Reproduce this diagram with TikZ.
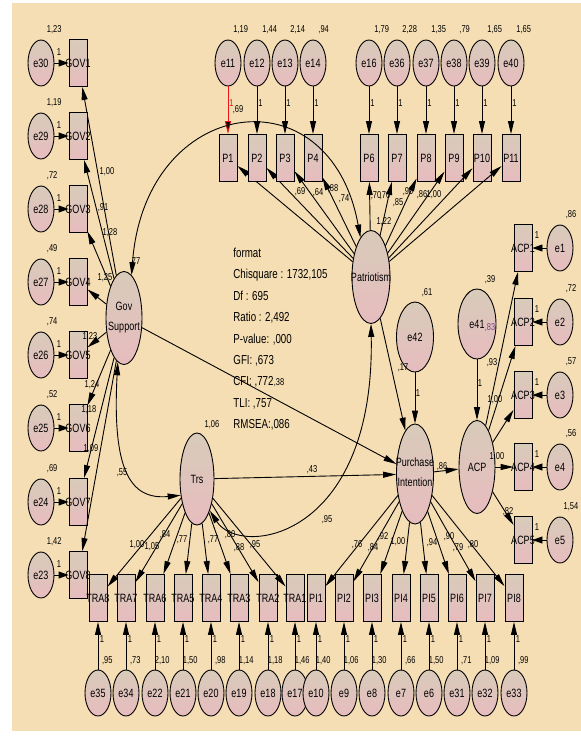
\documentclass[tikz,border=0pt]{standalone}
\usepackage{fontspec}
\setmainfont[FakeStretch=0.75]{Liberation Sans}
\usepackage{tikz}
\usetikzlibrary{positioning, shapes.geometric, arrows.meta, calc}
\tikzset{>={Triangle[length=13pt,width=6pt]}}
\definecolor{amosbg}{RGB}{245,222,179}
\definecolor{amostop}{RGB}{216,203,186}
\definecolor{amosbot}{RGB}{231,188,190}
\definecolor{amosred}{RGB}{240,20,20}
\definecolor{amospurple}{RGB}{120,70,130}
\newcommand\nodefont{\fontsize{12}{14}\selectfont}
\newcommand\numfont{\fontsize{10}{12}\selectfont}
\newcommand\statfont{\fontsize{13}{15}\selectfont}
\newcommand\ctext[1]{\makebox[0pt]{#1}}
\newcommand\ttext[2]{\makebox[0pt]{\begin{tabular}{@{}c@{}}#1\\[6pt]#2\end{tabular}}}
\tikzset{
    obs/.style={rectangle, draw, top color=amostop, bottom color=amosbot,
        minimum width=18pt, minimum height=47pt, inner sep=0pt, font=\nodefont},
    err/.style={ellipse, draw, top color=amostop, bottom color=amosbot,
        minimum width=26pt, minimum height=46pt, inner sep=0pt, font=\nodefont},
    lat/.style={ellipse, draw, top color=amostop, bottom color=amosbot,
        minimum width=37pt, minimum height=93pt, inner sep=0pt, font=\nodefont},
    num/.style={font=\numfont, inner sep=0pt},
    stat/.style={font=\statfont, inner sep=0pt, anchor=base west},
    errarr/.style={-{Triangle[length=10pt,width=7pt]}},
    cov/.style={<->}
}

\begin{document}
\begin{tikzpicture}[x=1pt, y=-1pt, line width=0.9pt]
    \useasboundingbox (0,0) rectangle (581,740);
    \fill[white] (0,0) rectangle (581,740);
    \fill[amosbg] (12,3) rectangle (581,731);

    % latent variables
    \node[lat, minimum width=36pt] (gov) at (124,318) {\ttext{Gov}{Support}};
    \node[lat, minimum width=38pt] (pat) at (371,277) {\ctext{Patriotism}};
    \node[lat, minimum width=34pt, minimum height=92pt] (trs) at (197,479) {\ctext{Trs}};
    \node[lat, minimum height=100pt] (purch) at (415,474) {\ttext{Purchase}{Intention}};
    \node[lat, minimum width=36pt] (acp) at (477,467) {\ctext{ACP}};
    \node[lat, minimum width=38pt, minimum height=70pt] (e41) at (477,324) {\ctext{e41}};
    \node[lat, minimum height=70pt] (e42) at (415,337) {\ctext{e42}};

    % gov support items
    \foreach \n/\y/\e/\v in {1/63/30/{1,23}, 2/136/29/{1,19}, 3/209/28/{,72}, 4/282/27/{,49},
                             5/355/26/{,74}, 6/428/25/{,52}, 7/502/24/{,69}, 8/575/23/{1,42}} {
        \node[obs] (gov\n) at (78,\y) {\ctext{GOV\n}};
        \node[err] (e\e) at (41,\y) {\ctext{e\e}};
        \node[num, anchor=west] (ve\e) at (46.5,\y-33) {\v};
        \node[num] (one\e) at (59,\y-11) {1};
        \path (e\e) edge[errarr] (gov\n);
        \path[->] (gov) edge (gov\n);
    }

    % patriotism items
    \foreach \n/\x/\e/\v/\c in {1/228/11/{1,19}/amosred, 2/257/12/{1,44}/black, 3/285/13/{2,14}/black,
                                4/313/14/{,94}/black, 6/369/16/{1,79}/black, 7/397/36/{2,28}/black,
                                8/426/37/{1,35}/black, 9/454/38/{,79}/black, 10/482/39/{1,65}/black,
                                11/511/40/{1,65}/black} {
        \node[obs] (p\n) at (\x,158) {\ctext{P\n}};
        \node[err] (e\e) at (\x,63) {\ctext{e\e}};
        \node[num, anchor=west] (ve\e) at (\x+5,30) {\v};
        \node[num, text=\c] (one\e) at (\x+3.5,103) {1};
        \path[->, draw=\c] (e\e) edge (p\n);
        \path[->] (pat) edge (p\n);
    }

    % acp items
    \foreach \n/\y/\v in {1/248/{,86}, 2/322/{,72}, 3/395/{,57}, 4/467/{,56}, 5/540/{1,54}} {
        \node[obs] (acp\n) at (523,\y) {\ctext{ACP\n}};
        \node[err] (e\n) at (560,\y) {\ctext{e\n}};
        \node[num] (ve\n) at (571,\y-33) {\v};
        \node[num] (one\n) at (537,\y-13) {1};
        \path (e\n) edge[errarr] (acp\n);
        \path[->] (acp) edge (acp\n);
    }

    % trust items
    \foreach \m/\t/\x/\e/\v in {tra8/TRA8/98/35/{,95}, tra7/TRA7/126/34/{,73}, tra6/TRA6/155/22/{2,10},
                                tra5/TRA5/183/21/{1,50}, tra4/TRA4/211/20/{,98}, tra3/TRA3/239/19/{1,14},
                                tra2/TRA2/268/18/{1,18}, tra1/TRA1/295/17/{1,46}} {
        \node[obs] (\m) at (\x,598) {\ctext{\t}};
        \node[err] (e\e) at (\x,693) {\ctext{e\e}};
        \node[num, anchor=east] (ve\e) at (\x+15,661) {\v};
        \node[num] (one\e) at (\x+4,639) {1};
        \path[->] (e\e) edge (\m);
        \path[->] (trs) edge (\m);
    }

    % purchase intention items
    \foreach \m/\t/\x/\e/\v in {pi1/PI1/316/10/{1,40}, pi2/PI2/344/9/{1,06}, pi3/PI3/372/8/{1,30},
                                pi4/PI4/401/7/{,66}, pi5/PI5/429/6/{1,50}, pi6/PI6/457/31/{,71},
                                pi7/PI7/485/32/{1,09}, pi8/PI8/514/33/{,99}} {
        \node[obs] (\m) at (\x,598) {\ctext{\t}};
        \node[err] (e\e) at (\x,693) {\ctext{e\e}};
        \node[num, anchor=east] (ve\e) at (\x+15,661) {\v};
        \node[num] (one\e) at (\x+4,639) {1};
        \path[->] (e\e) edge (\m);
        \path[->] (purch) edge (\m);
    }

    % structural paths
    \path[->]
        (gov)   edge (purch)
        (trs)   edge (purch)
        (pat)   edge (purch)
        (e42)   edge (purch)
        (purch) edge (acp)
        (e41)   edge (acp)
    ;

    % covariances
    \draw[cov] (gov.80) .. controls (145,95) and (330,70) .. (pat.105);
    \draw[cov] (gov.262) .. controls (112,470) and (130,500) .. (trs.225);
    \draw[cov] (trs.-68) .. controls (240,558) and (375,540) .. (pat.-90);

    % estimates
    \foreach \x/\y/\v [count=\i] in {107/172/{1,00}, 103/208/{,91}, 110/233/{1,28}, 105/278/{1,25},
        90/337/{1,23}, 92/385/{1,24}, 89/410/{1,18}, 91/449/{1,09},
        300/192/{,69}, 318/193/{,64}, 333/189/{,88}, 344/199/{,74}, 376/196/{,70}, 385/196/{,70},
        384/222/{1,22}, 398/203/{,85}, 408/192/{,90}, 422/195/{,86}, 434/195/{1,00}, 238/110/{,69},
        137/545/{1,00}, 152/547/{1,05}, 165/535/{,84}, 182/540/{,77}, 213/540/{,77}, 230/535/{,80},
        239/548/{,88}, 255/545/{,95},
        357/545/{,76}, 373/548/{,84}, 383/537/{,92}, 398/542/{1,00}, 432/543/{,94}, 449/537/{,90},
        458/548/{,79}, 473/545/{,80},
        492/363/{,93}, 495/400/{1,00}, 497/457/{1,00}, 508/512/{,82}, 442/467/{,86},
        279/383/{,38}, 312/470/{,43}, 403/368/{,17}, 418/393/1, 480/383/1, 427/293/{,61}, 490/280/{,39},
        135/262/{,77}, 122/473/{,55}, 327/520/{,95}, 212/425/{1,06}} {
        \node[num] (est\i) at (\x,\y) {\v};
    }
    \node[num, text=amospurple] (r2acp) at (490,328) {,83};

    % fit indices
    \foreach \t [count=\i] in {format, {Chisquare : 1732,105}, Df : 695, {Ratio : 2,492}, {P-value: ,000},
                               {GFI: ,673}, {CFI: ,772}, {TLI: ,757}, {RMSEA:,086}} {
        \node[stat] (fit\i) at (233,236.1+21.4*\i) {\t};
    }
\end{tikzpicture}
\end{document}
